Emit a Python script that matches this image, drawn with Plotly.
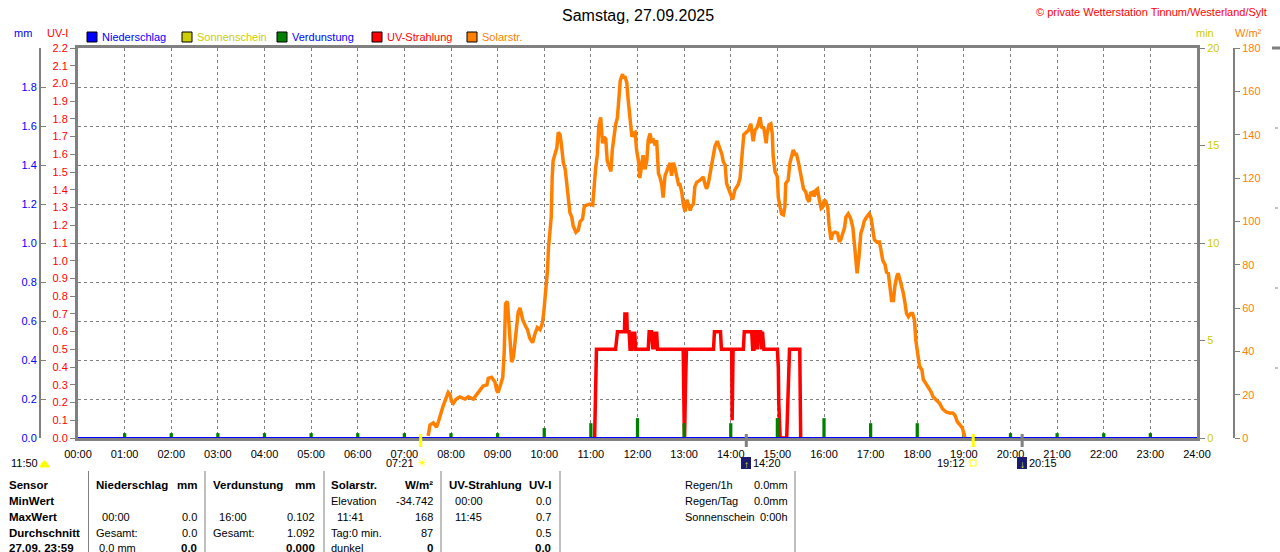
import plotly.graph_objects as go

W, H = 1280, 552
FONT = "Liberation Sans, Arial, sans-serif"
GRAY = "#808080"

# Zeitachse
hour_ticks = [0, 1, 2, 3, 4, 5, 6, 7, 8, 9, 10, 11, 12, 13, 14, 15, 16, 17, 18, 19, 20, 21, 22, 23, 24]
hour_labels = ["00:00", "01:00", "02:00", "03:00", "04:00", "05:00", "06:00", "07:00", "08:00",
               "09:00", "10:00", "11:00", "12:00", "13:00", "14:00", "15:00", "16:00", "17:00",
               "18:00", "19:00", "20:00", "21:00", "22:00", "23:00", "24:00"]

# Solarstrahlung (Stunde, W/m²)
solar_h = [
    7.51, 7.55, 7.62, 7.69, 7.73, 7.76, 7.82, 7.87, 7.94, 7.98,
    8.01, 8.05, 8.11, 8.19, 8.30, 8.37, 8.48, 8.55, 8.62, 8.69,
    8.77, 8.80, 8.87, 8.94, 8.98, 9.01, 9.07, 9.11, 9.14, 9.17,
    9.21, 9.24, 9.27, 9.30, 9.34, 9.37, 9.41, 9.44, 9.48, 9.54,
    9.59, 9.64, 9.69, 9.75, 9.80, 9.85, 9.91, 9.96, 9.99, 10.04,
    10.07, 10.09, 10.12, 10.15, 10.17, 10.19, 10.23, 10.27, 10.30, 10.34,
    10.37, 10.41, 10.45, 10.48, 10.52, 10.55, 10.59, 10.62, 10.68, 10.73,
    10.77, 10.82, 10.86, 10.91, 10.98, 11.04, 11.07, 11.10, 11.14, 11.17,
    11.21, 11.23, 11.25, 11.28, 11.32, 11.35, 11.39, 11.43, 11.46, 11.50,
    11.53, 11.57, 11.60, 11.63, 11.68, 11.70, 11.73, 11.77, 11.80, 11.84,
    11.88, 11.91, 11.95, 11.98, 12.02, 12.05, 12.09, 12.12, 12.16, 12.20,
    12.23, 12.27, 12.30, 12.34, 12.38, 12.41, 12.45, 12.48, 12.52, 12.55,
    12.59, 12.63, 12.66, 12.70, 12.73, 12.77, 12.80, 12.84, 12.88, 12.91,
    12.95, 12.98, 13.02, 13.06, 13.09, 13.13, 13.16, 13.20, 13.23, 13.27,
    13.34, 13.41, 13.45, 13.48, 13.52, 13.55, 13.59, 13.63, 13.66, 13.71,
    13.75, 13.81, 13.84, 13.88, 13.91, 13.95, 13.98, 14.04, 14.09, 14.16,
    14.20, 14.23, 14.28, 14.33, 14.38, 14.43, 14.48, 14.52, 14.57, 14.63,
    14.66, 14.71, 14.76, 14.78, 14.82, 14.86, 14.89, 14.91, 14.95, 15.00,
    15.02, 15.06, 15.09, 15.13, 15.16, 15.18, 15.23, 15.27, 15.31, 15.34,
    15.38, 15.41, 15.45, 15.48, 15.52, 15.56, 15.61, 15.64, 15.68, 15.71,
    15.76, 15.79, 15.83, 15.86, 15.90, 15.94, 15.97, 16.01, 16.04, 16.08,
    16.11, 16.15, 16.19, 16.24, 16.29, 16.33, 16.36, 16.40, 16.44, 16.47,
    16.52, 16.57, 16.62, 16.65, 16.69, 16.71, 16.75, 16.79, 16.83, 16.86,
    16.90, 16.94, 16.97, 17.01, 17.04, 17.08, 17.13, 17.19, 17.22, 17.26,
    17.31, 17.34, 17.38, 17.42, 17.45, 17.49, 17.52, 17.56, 17.59, 17.63,
    17.67, 17.70, 17.74, 17.77, 17.81, 17.86, 17.90, 17.94, 17.97, 18.01,
    18.05, 18.10, 18.13, 18.19, 18.24, 18.29, 18.34, 18.41, 18.48, 18.54,
    18.62, 18.69, 18.76, 18.81, 18.86, 18.92, 18.97, 19.00, 19.02,
]
solar_wm2 = [
    1, 6, 7, 5, 7.5, 10, 14, 17, 21, 20,
    17, 16, 18, 19, 18, 19, 18, 20, 22, 24,
    24.5, 27.5, 28, 26, 22, 21, 25, 28, 39, 62,
    63, 53, 39, 35, 37.5, 45, 51, 58, 60, 54.5,
    52, 50, 46, 44, 48, 51, 50, 53, 58, 68,
    77.5, 87.5, 94.5, 102, 120, 128, 131, 134, 141, 140,
    135, 127, 124, 116, 110, 104, 102, 98, 95, 96,
    100, 101, 107, 107.5, 108, 107.5, 117, 124, 131, 144,
    148, 140, 136, 139, 138, 128, 125, 123, 133, 141,
    144.5, 148, 159, 165, 168, 166, 167, 164, 156, 147,
    139, 140.5, 141, 133, 128, 120, 128, 130.5, 124, 128,
    137.5, 140.5, 137, 137.5, 135, 137.5, 122, 120.5, 117, 111,
    121, 124, 125, 127, 121, 127, 125, 121, 117, 117,
    113.5, 108, 104.5, 110, 108, 105, 107, 108, 116, 118,
    119, 120.5, 117, 115, 117.5, 121, 127, 131, 134.5, 137,
    134.5, 131, 127.5, 126, 117.5, 115, 113, 110, 114.5, 117,
    120, 128, 140, 141, 142, 145, 137, 142, 143.5, 148,
    143.5, 143, 136, 140.5, 144.5, 145, 140.5, 130, 123, 120.5,
    111, 106.5, 103.5, 103, 106.5, 117.5, 119, 127, 130.5, 133,
    131, 131, 127.5, 123.5, 119, 115, 113.5, 110.5, 109, 113,
    113.5, 111.5, 114.5, 115, 110, 106, 106.5, 110, 109, 106.5,
    98, 91.5, 94.5, 95, 94.5, 90.5, 91.5, 95, 97, 102,
    103.5, 101.5, 97, 90, 79, 76, 83.5, 94.5, 97, 100,
    101.5, 103, 103.5, 101.5, 96, 91.5, 90.5, 90.5, 87, 82,
    80, 76.5, 76, 70, 63.5, 63.5, 70, 74.5, 76, 73,
    70, 67, 62, 57.5, 56, 57.5, 57.5, 54.5, 45, 37.5,
    33, 31.5, 27, 25, 23.5, 21.5, 19, 17.5, 16, 13.5,
    12, 11.5, 11.5, 10.5, 7.5, 6, 4.5, 2, 0.5,
]

# UV-Strahlung (Stunde, UV-I)
uv_h = [11.08, 11.10, 11.12, 11.53, 11.57, 11.72, 11.73, 11.77, 11.78,
        11.82, 11.84, 11.88, 11.90, 11.92, 11.94, 11.96, 12.23, 12.25, 12.30,
        12.33, 12.35, 12.38, 12.41, 12.43, 12.98, 13.00, 13.01, 13.03, 13.05,
        13.63, 13.65, 13.78, 13.80, 14.02, 14.03, 14.05, 14.27, 14.29, 14.45,
        14.47, 14.50, 14.52, 14.56, 14.57, 14.59, 14.64, 14.66, 14.68, 14.71,
        15.00, 15.02, 15.03, 15.06, 15.20, 15.21, 15.23, 15.26, 15.48, 15.50]
uv_index = [0.0, 0.3, 0.5, 0.5, 0.6, 0.6, 0.7, 0.7, 0.6,
            0.6, 0.5, 0.5, 0.6, 0.5, 0.6, 0.5, 0.5, 0.6, 0.6,
            0.5, 0.6, 0.5, 0.6, 0.5, 0.5, 0.1, 0.0, 0.3, 0.5,
            0.5, 0.6, 0.6, 0.5, 0.5, 0.1, 0.5, 0.5, 0.6, 0.6,
            0.5, 0.5, 0.6, 0.6, 0.5, 0.6, 0.6, 0.5, 0.6, 0.5,
            0.5, 0.4, 0.2, 0.0, 0.0, 0.1, 0.3, 0.5, 0.5, 0.0]

# Verdunstung je Stunde (mm)
verd_h = [1, 2, 3, 4, 5, 6, 7, 8, 9, 10, 11, 12, 13, 14, 15, 16, 17, 18, 19, 20, 21, 22, 23]
verd_mm = [0.025, 0.025, 0.025, 0.025, 0.025, 0.025, 0.025, 0.025, 0.025, 0.051, 0.076, 0.102,
           0.076, 0.076, 0.102, 0.102, 0.076, 0.076, 0.025, 0.025, 0.025, 0.025, 0.025]

# Niederschlag (mm)
regen_h = [0, 24]
regen_mm = [0.0, 0.0]

# Achsenbeschriftungen
mm_ticks = [0.0, 0.2, 0.4, 0.6, 0.8, 1.0, 1.2, 1.4, 1.6, 1.8]
min_ticks = [0, 5, 10, 15, 20]

# Sonne / Mond
event_times = [7 + 21 / 60, 14 + 20 / 60, 19 + 12 / 60, 20 + 15 / 60]
event_labels = ["07:21", "14:20", "19:12", "20:15"]
event_colors = ["#ffff00", GRAY, "#ffff00", GRAY]

# Legende
legend_names = ["Niederschlag", "Sonnenschein", "Verdunstung", "UV-Strahlung", "Solarstr."]
legend_box = ["#0000ff", "#cccc00", "#008000", "#ff0000", "#ff8000"]
legend_text = ["#0000ff", "#cccc00", "#0000ff", "#ff0000", "#ff8000"]

# Tabelle unten
table_rows = ["Sensor", "MinWert", "MaxWert", "Durchschnitt", "27.09. 23:59"]
col_nied = [("Niederschlag", "mm"), ("", ""), ("\u00a0\u00a000:00", "0.0"), ("Gesamt:", "0.0"), ("\u00a00.0 mm", "0.0")]
col_verd = [("Verdunstung", "mm"), ("", ""), ("\u00a0\u00a016:00", "0.102"), ("Gesamt:", "1.092"), ("", "0.000")]
col_solar = [("Solarstr.", "W/m²"), ("Elevation", "-34.742"), ("\u00a0\u00a011:41", "168"), ("Tag:0 min.", "87"), ("dunkel", "0")]
col_uv = [("UV-Strahlung", "UV-I"), ("\u00a0\u00a000:00", "0.0"), ("\u00a0\u00a011:45", "0.7"), ("", "0.5"), ("", "0.0")]
info_labels = ["Regen/1h", "Regen/Tag", "Sonnenschein"]
info_values = ["0.0mm", "0.0mm", "0:00h"]

# Pixel -> paper
L, R, T, B = 78, 1197, 48, 438


def px(x):
    return x / W


def py(y):
    return 1 - y / H


fig = go.Figure()

# leere Spur, damit das Grund-Koordinatensystem (Rahmen + Gitter) gezeichnet wird
fig.add_trace(go.Scatter(x=[0, 24], y=[None, None], yaxis="y", mode="lines", hoverinfo="skip"))
fig.add_trace(go.Scatter(x=uv_h, y=uv_index, yaxis="y2", mode="lines",
                         line=dict(color="#ff0000", width=3.5)))
fig.add_trace(go.Bar(x=verd_h, y=verd_mm, yaxis="y3", width=0.07,
                     marker=dict(color="#008000", line=dict(width=0))))
fig.add_trace(go.Scatter(x=regen_h, y=regen_mm, yaxis="y3", mode="lines",
                         line=dict(color="#0000ff", width=2)))
fig.add_trace(go.Scatter(x=solar_h, y=solar_wm2, yaxis="y5", mode="lines",
                         line=dict(color="#ff8000", width=3.5)))
fig.add_trace(go.Scatter(x=[0, 24], y=[None, None], yaxis="y4", mode="lines", hoverinfo="skip"))

fig.update_layout(
    width=W, height=H,
    margin=dict(l=0, r=0, t=0, b=0, pad=0),
    paper_bgcolor="white", plot_bgcolor="white",
    showlegend=False,
    font=dict(family=FONT, size=11, color="black"),
    xaxis=dict(domain=[px(L), px(R)], range=[0, 24], tickvals=hour_ticks, ticktext=hour_labels,
               showgrid=True, gridcolor=GRAY, griddash="3px,3px", gridwidth=1,
               showline=True, mirror=True, linecolor=GRAY, linewidth=3,
               ticks="outside", ticklen=4, tickcolor="rgba(0,0,0,0)", automargin=False,
               tickfont=dict(size=11, color="black"), zeroline=False, fixedrange=True),
    yaxis=dict(domain=[py(B), py(T)], range=[0, 10], dtick=1, automargin=False,
               showgrid=True, gridcolor=GRAY, griddash="3px,3px", gridwidth=1,
               showticklabels=False, ticks="", showline=True, mirror=True,
               linecolor=GRAY, linewidth=3, zeroline=False),
    yaxis2=dict(overlaying="y", anchor="x", side="left", range=[0, 2.2], automargin=False,
                tickmode="linear", tick0=0, dtick=0.1, tickformat=".1f",
                ticks="outside", ticklen=7, tickcolor=GRAY,
                tickfont=dict(color="#ff0000", size=11), showgrid=False, zeroline=False),
    yaxis3=dict(overlaying="y", anchor="free", position=px(40), side="left", range=[0, 2.0],
                tickvals=mm_ticks, tickformat=".1f", ticks="inside", ticklen=5, tickcolor=GRAY,
                showline=True, linecolor=GRAY, linewidth=2, automargin=False,
                tickfont=dict(color="#0000ff", size=11), showgrid=False, zeroline=False),
    yaxis4=dict(overlaying="y", anchor="x", side="right", range=[0, 20], automargin=False,
                tickvals=min_ticks, ticks="outside", ticklen=7, tickcolor=GRAY,
                tickfont=dict(color="#cccc00", size=11), showgrid=False, zeroline=False),
    yaxis5=dict(overlaying="y", anchor="free", position=px(1234), side="right", range=[0, 180],
                tickmode="linear", tick0=0, dtick=20, ticks="outside", ticklen=5, tickcolor=GRAY,
                showline=True, linecolor=GRAY, linewidth=2, automargin=False,
                tickfont=dict(color="#ff8000", size=11), showgrid=False, zeroline=False),
)


def text(x, y, s, color="black", size=11, anchor="left", bold=False):
    fig.add_annotation(x=px(x), y=py(y), xref="paper", yref="paper",
                       text="<b>%s</b>" % s if bold else s, showarrow=False,
                       xanchor=anchor, yanchor="middle", borderpad=0,
                       font=dict(family=FONT, size=size, color=color))


def line(x0, y0, x1, y1, color=GRAY, width=1, dash=None):
    fig.add_shape(type="line", xref="paper", yref="paper",
                  x0=px(x0), y0=py(y0), x1=px(x1), y1=py(y1),
                  line=dict(color=color, width=width, dash=dash))


# Titel
text(638, 15, "Samstag, 27.09.2025", size=16, anchor="center")
text(1268, 12, "© private Wetterstation Tinnum/Westerland/Sylt", color="#ff0000", anchor="right")

# Achsentitel
text(23, 33, "mm", color="#0000ff", anchor="center")
text(57, 33, "UV-I", color="#ff0000", anchor="center")
text(1205, 33, "min", color="#cccc00", anchor="center")
text(1248, 33, "W/m²", color="#ff8000", anchor="center")

# Legende
for i, name in enumerate(legend_names):
    lx = 87 + 95 * i
    fig.add_shape(type="rect", xref="paper", yref="paper",
                  x0=px(lx), x1=px(lx + 10), y0=py(42), y1=py(32),
                  fillcolor=legend_box[i], line=dict(color="black", width=1))
    text(lx + 14, 37, name, color=legend_text[i])

# Markierungen auf der Zeitachse
for t, c in zip(event_times, event_colors):
    fig.add_shape(type="line", xref="x", yref="paper", x0=t, x1=t, y0=py(434), y1=py(447),
                  line=dict(color=c, width=3))

# Sonnen- und Mondzeiten
text(10, 463, "11:50")
fig.add_shape(type="path", xref="paper", yref="paper",
              path="M %f,%f Q %f,%f %f,%f Z" % (px(40), py(467), px(44.5), py(455), px(49), py(467)),
              fillcolor="#ffff00", line=dict(color="#ffff00", width=1))
text(415, 463, event_labels[0], anchor="right")
text(422, 463, "☀", color="#ffff00", size=12, anchor="center")
for lab, rx in [(event_labels[1], 741), (event_labels[3], 1017)]:
    fig.add_shape(type="rect", xref="paper", yref="paper",
                  x0=px(rx), x1=px(rx + 10), y0=py(469), y1=py(457),
                  fillcolor="#1a1a70", line=dict(width=0))
    text(rx + 5, 464, "↑" if rx < 900 else "↓", color="#ffff00", size=10, anchor="center", bold=True)
    text(rx + 11, 463, lab)
text(966, 463, event_labels[2], anchor="right")
fig.add_shape(type="rect", xref="paper", yref="paper", x0=px(970), x1=px(976),
              y0=py(466), y1=py(460), line=dict(color="#ffff00", width=1))

# Tabelle
for sx in [88.5, 205, 324, 441, 560, 795]:
    line(sx, 471, sx, 552)

rows_y = [485, 501, 517, 533, 548]
for i, y in enumerate(rows_y):
    text(8, y, table_rows[i], bold=True, size=11.5)
    for col, (lx, rx) in zip([col_nied, col_verd, col_solar, col_uv],
                             [(95, 198), (212, 316), (330, 434), (448, 552)]):
        lab, val = col[i]
        head = i == 0
        if lab:
            text(lx, y, lab, bold=head, size=11.5 if head else 11)
        if val:
            b = head or i == 4
            text(rx, y, val, anchor="right", bold=b, size=11.5 if b else 11)

for i, y in enumerate(rows_y[:3]):
    text(684, y, info_labels[i])
    text(789, y, info_values[i], anchor="right")

# Rand des naechsten Diagramms
line(1272, 48, 1280, 48, width=3)
for gy in [128, 208, 288, 368]:
    line(1275, gy, 1280, gy, dash="dot")

# Seitenrand des Browsers entfernen, damit die Grafik bei (0,0) beginnt
fig.write_html("out.html", config={"displayModeBar": False},
               post_script="document.body.style.margin='0';document.body.style.overflow='hidden';")
